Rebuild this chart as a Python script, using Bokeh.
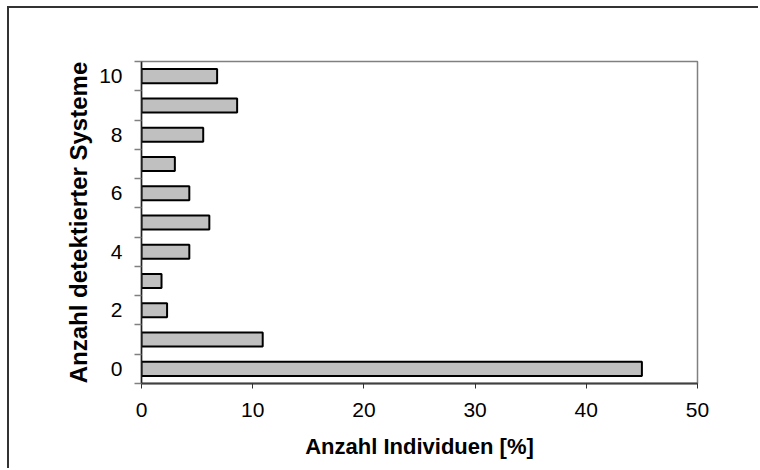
from bokeh.plotting import figure
from bokeh.models import FixedTicker, Range1d, ColumnDataSource
from bokeh.embed import file_html
from bokeh.resources import INLINE

# Data
systems = [0, 1, 2, 3, 4, 5, 6, 7, 8, 9, 10]
percent = [45.0, 10.9, 2.3, 1.8, 4.3, 6.1, 4.3, 3.0, 5.55, 8.6, 6.8]
x_ticks = [0, 10, 20, 30, 40, 50]
y_label_ticks = [0, 2, 4, 6, 8, 10]

FONT = "Liberation Sans"

p = figure(width=751, height=462, output_backend="svg", toolbar_location=None,
           x_range=Range1d(0, 50), y_range=Range1d(-0.5, 10.5),
           min_border_left=132, min_border_right=63, min_border_top=53, min_border_bottom=87,
           background_fill_color="white", border_fill_color="white")
# outer chart border (left/top visible; extends beyond window on right and bottom)
p.styles = {"margin-left": "7px", "margin-top": "6px",
            "border-left": "2px solid #333333", "border-top": "2px solid #333333"}

src = ColumnDataSource(dict(y=systems, right=percent))
p.hbar(y="y", left=0, right="right", height=0.48, source=src,
       fill_color="#c0c0c0", line_color="black", line_width=2)

p.xgrid.visible = False
p.ygrid.visible = False
p.outline_line_color = "#808080"
p.outline_line_width = 1.5

# x axis
xa = p.xaxis[0]
xa.ticker = FixedTicker(ticks=x_ticks, minor_ticks=[])
xa.axis_label = "Anzahl Individuen [%]"
xa.axis_label_text_font = FONT
xa.axis_label_text_font_style = "bold"
xa.axis_label_text_font_size = "22px"
xa.axis_label_text_color = "black"
xa.axis_label_standoff = 14
xa.major_label_text_font = FONT
xa.major_label_text_font_size = "21px"
xa.major_label_text_color = "black"
xa.major_label_standoff = 14
xa.axis_line_color = "#404040"
xa.axis_line_width = 2
xa.major_tick_out = 5
xa.major_tick_in = 0
xa.major_tick_line_color = "#303030"
xa.minor_tick_line_color = None

# y axis
ya = p.yaxis[0]
minor = [i - 0.5 for i in range(12)]
ya.ticker = FixedTicker(ticks=y_label_ticks, minor_ticks=minor)
ya.axis_label = "Anzahl detektierter Systeme"
ya.axis_label_text_font = FONT
ya.axis_label_text_font_style = "bold"
ya.axis_label_text_font_size = "24px"
ya.axis_label_text_color = "black"
ya.axis_label_standoff = 4
ya.major_label_text_font = FONT
ya.major_label_text_font_size = "21px"
ya.major_label_text_color = "black"
ya.major_label_standoff = 12
ya.major_label_orientation = "horizontal"
ya.major_tick_out = 0
ya.major_tick_in = 0
ya.minor_tick_out = 7
ya.minor_tick_in = 0
ya.minor_tick_line_color = "#808080"
ya.minor_tick_line_width = 1.5
ya.axis_line_color = "#202020"
ya.axis_line_width = 1.5

open("out.html", "w").write(file_html(p, INLINE))
